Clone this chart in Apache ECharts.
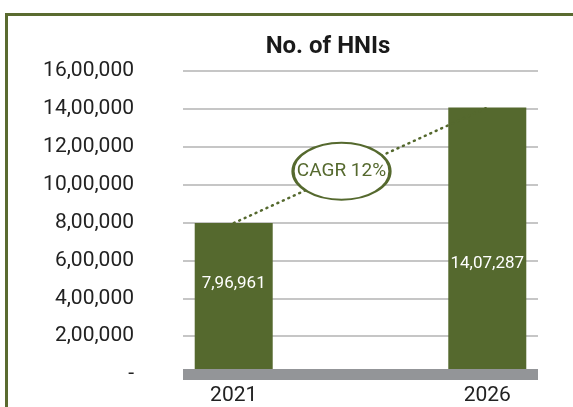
<!DOCTYPE html>
<html>
<head>
<meta charset="utf-8">
<script src="https://cdn.jsdelivr.net/npm/echarts@6/dist/echarts.min.js"></script>
<style>
  html, body { margin: 0; padding: 0; background: #fff; }
  .frame {
    position: absolute; left: 5px; top: 13px; width: 600px; height: 420px;
    border-left: 3px solid #5a6b30; border-top: 3px solid #5a6b30;
  }
  .chart { position: absolute; left: 0; top: 0; width: 573px; height: 407px; }
</style>
</head>
<body>
<div class="frame"></div>
<div class="chart" id="main"></div>
<script>
  // 数据
  var years = [2021, 2026];
  var hniCount = [796961, 1407287];
  var yTicks = [0, 200000, 400000, 600000, 800000, 1000000, 1200000, 1400000, 1600000];
  var cagrText = 'CAGR 12%';

  var green = '#55692e';

  // 印度数字格式 16,00,000
  function indianFormat(v) {
    if (v === 0) return '-';
    var s = String(Math.round(v));
    var last3 = s.slice(-3);
    var rest = s.slice(0, -3);
    if (rest) {
      rest = rest.replace(/\B(?=(\d{2})+(?!\d))/g, ',');
      return rest + ',' + last3;
    }
    return last3;
  }

  var chart = echarts.init(document.getElementById('main'));
  var labelOffsets = [[0, -15], [0, 23]];

  var option = {
    animation: false,
    textStyle: { fontFamily: 'Roboto' },
    title: {
      text: 'No. of HNIs',
      left: 323, top: 30, textAlign: 'center',
      textStyle: { fontSize: 24, fontWeight: 'bold', color: '#1a1a1a', fontFamily: 'Roboto' }
    },
    grid: { left: 183, right: 35, top: 71, bottom: 33 },
    xAxis: {
      type: 'value',
      min: 2020, max: 2027, interval: 1,
      z: 5,
      splitLine: { show: false },
      axisTick: { show: false },
      axisLine: { show: true, lineStyle: { color: '#939598', width: 11, cap: 'butt' } },
      axisLabel: {
        customValues: years,
        margin: 11,
        fontSize: 21, color: '#222',
        formatter: function (v) { return String(v); }
      }
    },
    yAxis: {
      type: 'value',
      min: yTicks[0], max: yTicks[yTicks.length - 1], interval: 200000,
      axisLine: { show: false },
      axisTick: { show: false },
      splitLine: { lineStyle: { color: '#b3b3b3', width: 1.5 } },
      axisLabel: {
        margin: 49, fontSize: 21, color: '#222',
        formatter: indianFormat
      }
    },
    series: [
      {
        type: 'bar',
        barWidth: 78,
        itemStyle: { color: green },
        data: years.map(function (y, i) {
          return {
            value: [y, hniCount[i]],
            label: {
              show: true, position: 'inside', offset: labelOffsets[i],
              color: '#fff', fontSize: 17,
              formatter: function (p) { return indianFormat(p.value[1]); }
            }
          };
        })
      },
      {
        type: 'line',
        symbol: 'none',
        z: 3,
        lineStyle: { color: green, width: 2.5, type: [1, 5], cap: 'round' },
        data: years.map(function (y, i) { return [y, hniCount[i]]; }),
        markPoint: {
          z: 10,
          symbol: 'circle',
          symbolSize: [97, 57],
          symbolOffset: [-19, 6],
          itemStyle: { color: '#fff', borderColor: green, borderWidth: 2.5 },
          label: { show: true, formatter: cagrText, color: green, fontSize: 19 },
          data: [{
            coord: [(years[0] + years[1]) / 2, (hniCount[0] + hniCount[1]) / 2]
          }]
        }
      }
    ]
  };
  chart.setOption(option);
</script>
</body>
</html>
